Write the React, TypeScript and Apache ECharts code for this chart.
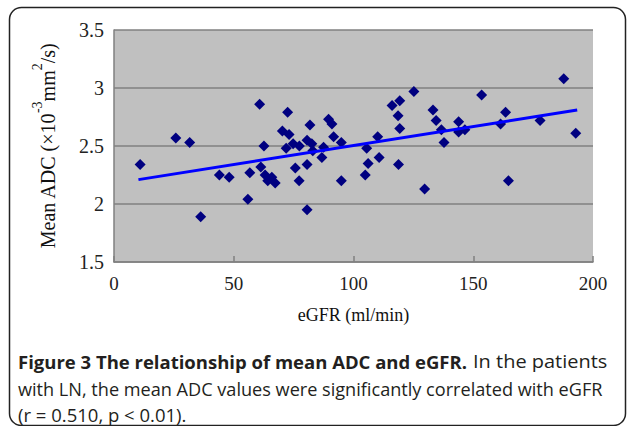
import React, { useEffect, useRef } from "react";
import * as echarts from "echarts";

const eGFR = [10.9, 25.8, 31.6, 36.2, 44.0, 48.1, 55.9, 56.7, 60.8, 61.3, 62.6, 63.1, 64.2, 65.9, 67.3, 70.3, 72.5, 73.1, 71.9, 74.8, 75.7, 77.3, 77.4, 80.6, 80.6, 80.6, 81.8, 82.6, 83.0, 86.8, 87.5, 89.6, 91.0, 91.7, 94.9, 94.9, 104.9, 105.5, 106.1, 110.1, 110.7, 116.1, 118.6, 118.8, 119.3, 119.3, 125.2, 129.7, 133.2, 134.5, 136.7, 137.8, 143.9, 143.9, 146.5, 153.5, 161.4, 163.5, 164.7, 177.9, 187.8, 192.8];
const meanADC = [2.34, 2.57, 2.53, 1.89, 2.25, 2.23, 2.04, 2.27, 2.86, 2.32, 2.50, 2.25, 2.20, 2.23, 2.18, 2.63, 2.79, 2.60, 2.48, 2.52, 2.31, 2.20, 2.50, 2.34, 1.95, 2.55, 2.68, 2.52, 2.46, 2.40, 2.49, 2.73, 2.69, 2.58, 2.53, 2.20, 2.25, 2.48, 2.35, 2.58, 2.40, 2.85, 2.76, 2.34, 2.89, 2.65, 2.97, 2.13, 2.81, 2.72, 2.64, 2.53, 2.71, 2.62, 2.64, 2.94, 2.69, 2.79, 2.20, 2.72, 3.08, 2.61];
const trendX = [10.2, 193.4];
const trendY = [2.21, 2.81];

const xTitle = "eGFR (ml/min)";
const captionBold = "Figure 3 The relationship of mean ADC and eGFR.";
const captionLine1 = "In the patients";
const captionLine2 = "with LN, the mean ADC values were significantly correlated with eGFR";
const captionLine3 = "(r = 0.510, p < 0.01).";

export default function App() {
  const ref = useRef<HTMLDivElement>(null);
  useEffect(() => {
    if (!ref.current) return;
    const chart = echarts.init(ref.current, null, { renderer: "svg" });
    const serif = "'Liberation Serif', 'Times New Roman', serif";
    const sans = "'Open Sans', sans-serif";
    const capStyle = { fontFamily: sans, fontSize: 18.5, fill: "#231f20", verticalAlign: "middle" };
    chart.setOption({
      animation: false,
      backgroundColor: "#ffffff",
      grid: {
        left: 114,
        top: 30,
        right: 34,
        bottom: 164,
        show: true,
        backgroundColor: "#c0c0c0",
        borderWidth: 0,
      },
      xAxis: {
        type: "value",
        min: 0,
        max: 200,
        interval: 50,
        name: xTitle,
        nameLocation: "middle",
        nameGap: 44,
        nameTextStyle: { fontFamily: serif, fontSize: 18, color: "#111" },
        axisLine: { show: true, lineStyle: { color: "#808080", width: 1.5 } },
        axisTick: { show: true, inside: true, length: 6, lineStyle: { color: "#808080", width: 1.5 } },
        axisLabel: { fontFamily: serif, fontSize: 19, color: "#222", margin: 12 },
        splitLine: { show: false },
      },
      yAxis: {
        type: "value",
        min: 1.5,
        max: 3.5,
        interval: 0.5,
        name: "{a|Mean ADC (×10}{s|-3}{a|mm}{s|2}{a|/s)}",
        nameLocation: "middle",
        nameRotate: 90,
        nameGap: 56,
        nameTextStyle: {
          fontFamily: serif,
          fontSize: 20,
          color: "#111",
          rich: {
            a: { fontFamily: serif, fontSize: 20, color: "#111", lineHeight: 28, verticalAlign: "bottom" },
            s: { fontFamily: serif, fontSize: 14, color: "#111", lineHeight: 28, verticalAlign: "top" },
          },
        },
        axisLine: { show: true, lineStyle: { color: "#808080", width: 1.5 } },
        axisTick: { show: false },
        axisLabel: { fontFamily: serif, fontSize: 20, color: "#222", margin: 10 },
        splitLine: { show: true, lineStyle: { color: "#808080", width: 1.5 } },
      },
      series: [
        {
          type: "scatter",
          symbol: "diamond",
          symbolSize: 11,
          itemStyle: { color: "#000080", opacity: 1 },
          data: eGFR.map((x, i) => [x, meanADC[i]]),
          z: 2,
        },
        {
          type: "line",
          symbol: "none",
          lineStyle: { color: "#0000ff", width: 3 },
          data: trendX.map((x, i) => [x, trendY[i]]),
          z: 3,
        },
      ],
      graphic: [
        {
          type: "rect",
          shape: { x: 9.5, y: 7.5, width: 616, height: 418, r: 12 },
          style: { fill: "none", stroke: "#222", lineWidth: 1.5 },
          silent: true,
        },
        {
          type: "text",
          x: 18,
          y: 361,
          scaleX: 1.0,
          style: { text: captionBold, ...capStyle, fontWeight: "bold" },
        },
        {
          type: "text",
          x: 473,
          y: 361,
          scaleX: 1.08,
          style: { text: captionLine1, ...capStyle },
        },
        {
          type: "text",
          x: 18,
          y: 388,
          scaleX: 0.98,
          style: { text: captionLine2, ...capStyle },
        },
        {
          type: "text",
          x: 18,
          y: 414,
          scaleX: 1.0,
          style: { text: captionLine3, ...capStyle },
        },
      ],
    });
    return () => chart.dispose();
  }, []);
  return (
    <div style={{ position: "fixed", left: 0, top: 0, width: 627, height: 426, background: "#fff" }}>
      <div ref={ref} style={{ width: 627, height: 426 }} />
    </div>
  );
}
